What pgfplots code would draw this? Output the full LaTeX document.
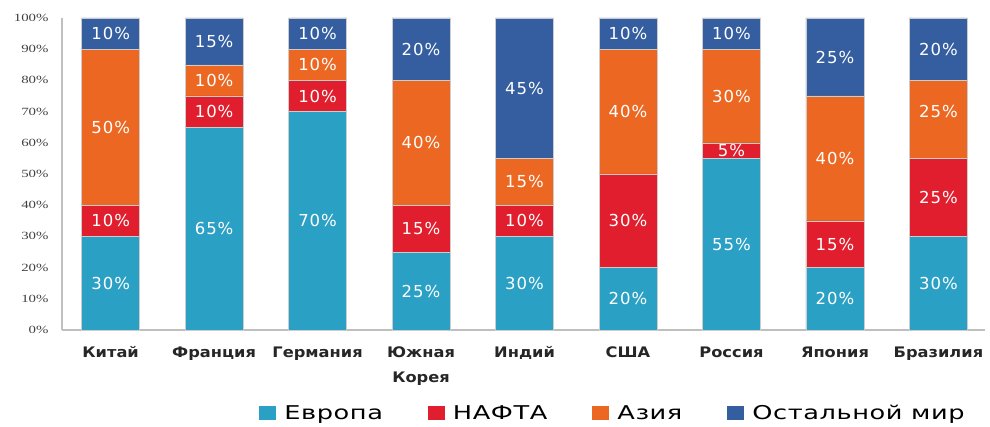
\documentclass[border=0pt]{standalone}
\usepackage{pgfplots}
\pgfplotsset{compat=1.18}
\usepackage{fontspec}
\setmainfont{DejaVu Sans}
\newfontfamily\catfont[FakeStretch=1.12]{DejaVu Sans}
\newfontfamily\legfont[FakeStretch=1.35,LetterSpace=3]{DejaVu Sans}
\newfontfamily\tickfont[FakeStretch=1.35]{Liberation Serif}
\newfontfamily\barfont[LetterSpace=6]{DejaVu Sans}
\definecolor{eur}{RGB}{42,160,196}
\definecolor{naf}{RGB}{225,30,45}
\definecolor{asi}{RGB}{236,104,34}
\definecolor{rest}{RGB}{52,94,160}
\pgfplotsset{mylegend/.style={legend image code/.code={\fill[##1,draw=none] (0bp,-7.5bp) rectangle (17bp,7bp);}}}
\begin{document}
\begin{tikzpicture}
\useasboundingbox (-62bp,-97bp) rectangle (928bp,330bp);
\begin{axis}[
  at={(0,0)}, anchor=south west,
  scale only axis, width=923bp, height=312bp,
  ybar stacked, bar width=58bp,
  xmin=-0.47, xmax=8.45, ymin=0, ymax=100,
  axis lines*=left,
  axis line style={draw=black!25, line width=1.5bp},
  major tick length=0pt,
  xtick={0,...,8},
  xticklabels={Китай,Франция,Германия,{Южная\\Корея},Индий,США,Россия,Япония,Бразилия},
  xticklabel style={font=\catfont\bfseries\fontsize{14.5bp}{25bp}\selectfont, align=center, text=black!85, yshift=-13bp},
  ytick={0,10,...,100},
  yticklabels={0\%,10\%,20\%,30\%,40\%,50\%,60\%,70\%,80\%,90\%,100\%},
  yticklabel style={font=\tickfont\fontsize{11bp}{12bp}\selectfont, text=black!75, xshift=-10bp},
  legend style={at={(0.597,-0.266)}, anchor=center, draw=none, fill=none,
    font=\legfont\fontsize{19bp}{20bp}\selectfont,
    /tikz/every odd column/.append style={column sep=6bp},
    /tikz/every even column/.append style={column sep=43bp}},
  legend columns=4,
]
\addplot[fill=eur, draw=black!20, line width=0.5bp, mylegend] coordinates {(0,30) (1,65) (2,70) (3,25) (4,30) (5,20) (6,55) (7,20) (8,30)};
\addplot[fill=naf, draw=black!20, line width=0.5bp, mylegend] coordinates {(0,10) (1,10) (2,10) (3,15) (4,10) (5,30) (6,5) (7,15) (8,25)};
\addplot[fill=asi, draw=black!20, line width=0.5bp, mylegend] coordinates {(0,50) (1,10) (2,10) (3,40) (4,15) (5,40) (6,30) (7,40) (8,25)};
\addplot[fill=rest, draw=black!20, line width=0.5bp, mylegend] coordinates {(0,10) (1,15) (2,10) (3,20) (4,45) (5,10) (6,10) (7,25) (8,20)};
\legend{Европа,НАФТА,Азия,Остальной мир}
\end{axis}
\begin{axis}[
  at={(0,0)}, anchor=south west,
  scale only axis, width=923bp, height=312bp,
  xmin=-0.47, xmax=8.45, ymin=0, ymax=100,
  hide axis,
  nodes near coords,
  point meta=explicit symbolic,
  every node near coord/.append style={anchor=center, text=white, font=\barfont\fontsize{16.5bp}{18bp}\selectfont},
]
\addplot[draw=none] coordinates {
 (0,15)[30\%] (0,35)[10\%] (0,65)[50\%] (0,95)[10\%]
 (1,32.5)[65\%] (1,70)[10\%] (1,80)[10\%] (1,92.5)[15\%]
 (2,35)[70\%] (2,75)[10\%] (2,85)[10\%] (2,95)[10\%]
 (3,12.5)[25\%] (3,32.5)[15\%] (3,60)[40\%] (3,90)[20\%]
 (4,15)[30\%] (4,35)[10\%] (4,47.5)[15\%] (4,77.5)[45\%]
 (5,10)[20\%] (5,35)[30\%] (5,70)[40\%] (5,95)[10\%]
 (6,27.5)[55\%] (6,57.5)[5\%] (6,75)[30\%] (6,95)[10\%]
 (7,10)[20\%] (7,27.5)[15\%] (7,55)[40\%] (7,87.5)[25\%]
 (8,15)[30\%] (8,42.5)[25\%] (8,70)[25\%] (8,90)[20\%]
};
\end{axis}
\end{tikzpicture}
\end{document}
